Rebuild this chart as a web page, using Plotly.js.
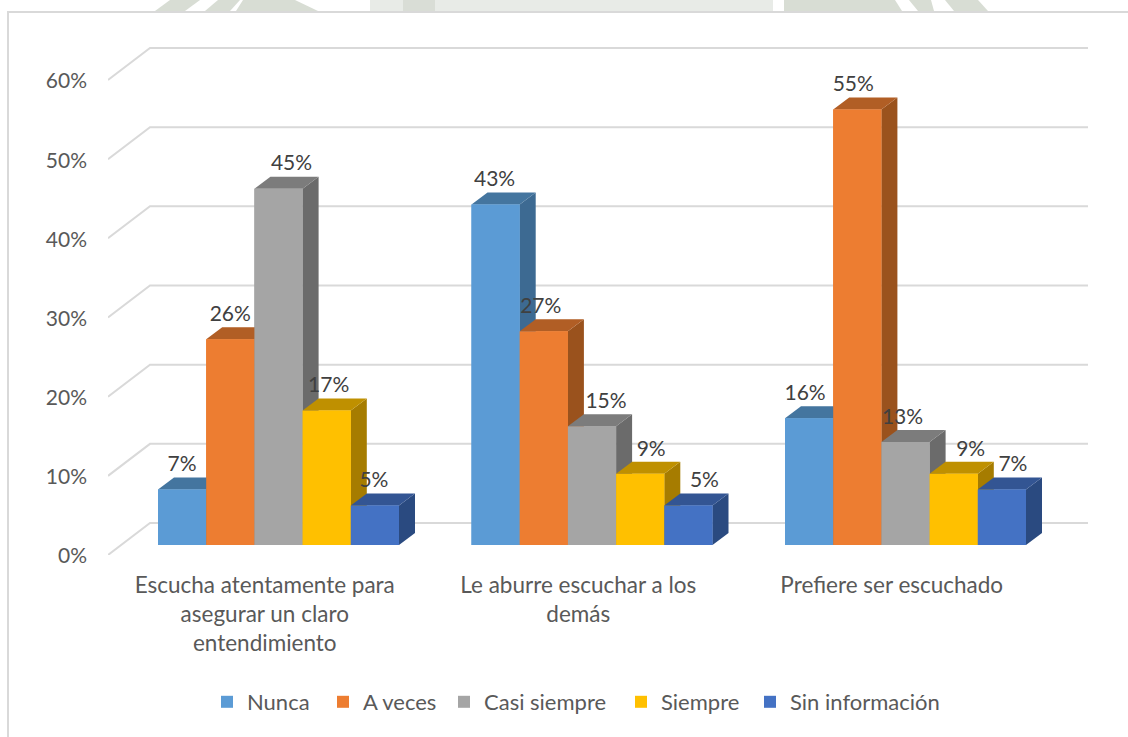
<!DOCTYPE html>
<html>
<head>
<meta charset="utf-8">
<script src="https://cdn.plot.ly/plotly-3.0.1.min.js"></script>
<style>html,body{margin:0;padding:0;background:#fff;overflow:hidden}#chart{width:1128px;height:737px}</style>
</head>
<body>
<div id="chart"></div>
<script>
const categories = ["Escucha atentamente para<br>asegurar un claro<br>entendimiento", "Le aburre escuchar a los<br>demás", "Prefiere ser escuchado"];
const seriesNames = ["Nunca", "A veces", "Casi siempre", "Siempre", "Sin información"];
const nunca = [7, 43, 16];
const aVeces = [26, 27, 55];
const casiSiempre = [45, 15, 13];
const siempre = [17, 9, 9];
const sinInformacion = [5, 5, 7];
const yTicks = [0, 10, 20, 30, 40, 50, 60];

// styling, kept apart from the values
const frontColors = ["#5b9bd5", "#ed7d31", "#a5a5a5", "#ffc000", "#4472c4"];
const topColors = ["#44759f", "#b15e25", "#7c7c7c", "#bf9000", "#335593"];
const sideColors = ["#3d6a92", "#9a521d", "#6b6b6b", "#a67c00", "#2a4a80"];
// horizontal nudge of each data label in pixels, by series then category
const labelNudge = [[0, -1, -4], [0, -3, -4], [13, 14, -3], [2, 11, 17], [-1, 16, 11]];
// left edge of each legend entry, in pixels
const legendLeft = [207, 323, 444, 621, 750];

const W = 1128, H = 737;
const plotL = 108, plotR = 1088, plotT = 40, plotB = 555;
const pxX = 313.5, pxY = 7.917, x0px = 264.75;
const toX = px => (px - x0px) / pxX;
const xRange = [toX(plotL), toX(plotR)];
const yRange = [0, (plotB - plotT) / pxY];
const barW = 48.2 / pxX;
const planeDX = 13.75 / pxX, planeDY = 10 / pxY;   // bars stand this far behind the front edge of the floor
const barDX = 16 / pxX, barDY = 12 / pxY;          // depth of each bar
const wallDX = 42 / pxX, wallDY = 32 / pxY;        // depth of the walls
const lift = 23.5 / pxY;

const seriesValues = [nunca, aVeces, casiSiempre, siempre, sinInformacion];
const font = "Lato, 'Open Sans', sans-serif";
const traces = [];

// real bars: they supply the legend
const legendKey = s => s === 0 ? "legend" : "legend" + (s + 1);
seriesValues.forEach((vals, s) => {
  traces.push({
    type: "bar", name: seriesNames[s], legend: legendKey(s), x: vals.map((_, i) => i + planeDX), y: vals,
    base: vals.map(() => planeDY), width: barW, offset: (s - 2.5) * barW,
    marker: {color: frontColors[s], line: {width: 0}}, hoverinfo: "name+y"
  });
});

// solid faces, painted from left to right
function face(polys, color) {
  const x = [], y = [];
  polys.forEach(p => { p.forEach(c => { x.push(c[0]); y.push(c[1]); }); x.push(null); y.push(null); });
  traces.push({type: "scatter", mode: "lines", x, y, fill: "toself", fillcolor: color,
    line: {width: 0, color: color}, hoverinfo: "skip", showlegend: false});
}
seriesValues.forEach((vals, s) => {
  const tops = [], sides = [], fronts = [];
  vals.forEach((v, i) => {
    const l = i + planeDX + (s - 2.5) * barW, r = l + barW, b = planeDY, t = planeDY + v;
    tops.push([[l, t], [r, t], [r + barDX, t + barDY], [l + barDX, t + barDY], [l, t]]);
    sides.push([[r, b], [r + barDX, b + barDY], [r + barDX, t + barDY], [r, t], [r, b]]);
    fronts.push([[l, b], [r, b], [r, t], [l, t], [l, b]]);
  });
  face(sides, sideColors[s]);
  face(tops, topColors[s]);
  face(fronts, frontColors[s]);
});

// data labels
const lx = [], ly = [], lt = [];
seriesValues.forEach((vals, s) => vals.forEach((v, i) => {
  lx.push(i + planeDX + (s - 2) * barW + labelNudge[s][i] / pxX);
  ly.push(planeDY + v + lift);
  lt.push(v + "%");
}));
traces.push({type: "scatter", mode: "text", x: lx, y: ly, text: lt, textposition: "middle center",
  textfont: {family: font, size: 21, color: "#404040"}, hoverinfo: "skip", showlegend: false, cliponaxis: false});

// walls: one bent gridline per tick
const shapes = yTicks.map(v => ({
  type: "path", xref: "x", yref: "y", layer: "below",
  path: `M${xRange[0]},${v} L${xRange[0] + wallDX},${v + wallDY} L${xRange[1]},${v + wallDY}`,
  line: {color: "#d9d9d9", width: 2}
}));

// chart frame and the faint page artwork behind it ("paper" spans the plot area)
const pX = px => (px - plotL) / (plotR - plotL), pY = py => (plotB - py) / (plotB - plotT);
const poly = (pts, color) => ({
  type: "path", xref: "paper", yref: "paper", layer: "below", fillcolor: color, line: {width: 0},
  path: "M" + pts.map(p => pX(p[0]) + "," + pY(p[1])).join(" L") + " Z"
});
const wm = "#d8ddd4", wmPale = "#e8ebe7";
shapes.push(
  poly([[370, 0], [773, 0], [773, 11], [370, 11]], wmPale),
  poly([[403, 0], [435, 0], [435, 11], [403, 11]], "#d9ddd6"),
  poly([[170, 0], [200, 0], [185, 11], [155, 11]], wm),
  poly([[218, 0], [240, 0], [230, 11], [205, 11]], wm),
  poly([[243, 0], [295, 0], [318, 11], [236, 11]], wm),
  poly([[784, 0], [895, 0], [902, 11], [784, 11]], wm),
  poly([[909, 0], [931, 0], [934, 11], [918, 11]], wm),
  poly([[945, 0], [978, 0], [988, 11], [954, 11]], wm),
  {type: "line", xref: "paper", yref: "paper", x0: pX(7), x1: pX(W), y0: pY(12), y1: pY(12), line: {color: "#d9d9d9", width: 2}},
  {type: "line", xref: "paper", yref: "paper", x0: pX(8), x1: pX(8), y0: pY(12), y1: pY(737), line: {color: "#d9d9d9", width: 2}}
);

const layout = {
  width: W, height: H, showlegend: true, barmode: "overlay",
  paper_bgcolor: "#fff", plot_bgcolor: "rgba(0,0,0,0)",
  margin: {l: plotL, r: W - plotR, t: plotT, b: H - plotB, pad: 0},
  font: {family: font, color: "#595959"},
  xaxis: {type: "linear", range: xRange, tickmode: "array", tickvals: [0, 1, 2], ticktext: categories,
    showgrid: false, zeroline: false, showline: false, ticks: "", ticklabelstandoff: 14,
    tickangle: 0, tickfont: {family: font, size: 22.5, color: "#595959"}},
  yaxis: {range: yRange, tickmode: "array", tickvals: yTicks, ticktext: yTicks.map(v => v + "%"),
    showgrid: false, zeroline: false, showline: false, ticks: "", ticklabelstandoff: 20, ticklabelshift: 1,
    tickfont: {family: font, size: 21, color: "#595959"}},
  shapes
};
seriesNames.forEach((_, s) => {
  layout[legendKey(s)] = {orientation: "h", xref: "container", yref: "container",
    x: legendLeft[s] / W, xanchor: "left", y: 1 - 702 / H, yanchor: "middle",
    font: {family: font, size: 22, color: "#595959"}, bgcolor: "rgba(0,0,0,0)"};
});
Plotly.newPlot("chart", traces, layout, {displayModeBar: false, responsive: false});
</script>
</body>
</html>
